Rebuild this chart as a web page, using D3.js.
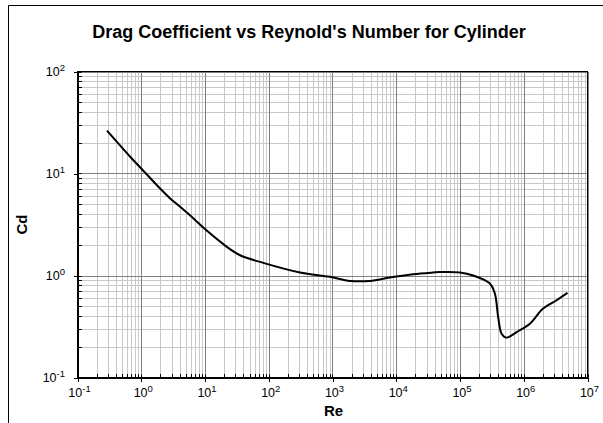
<!DOCTYPE html>
<html>
<head>
<meta charset="utf-8">
<script src="https://cdn.jsdelivr.net/npm/d3@7"></script>
<style>
  html, body { margin: 0; padding: 0; background: #fff; }
  svg { display: block; font-family: "Liberation Sans", Arial, sans-serif; }
</style>
</head>
<body>
<div id="chart"></div>
<script>
"use strict";

/********/
/* data */
/********/

const reynolds = [0.29, 0.67, 1.0, 2.03, 2.84, 4.07, 6.6, 10, 22, 35.5, 82, 310,
  910, 1880, 3870, 7950, 18450, 38000, 48400, 100000, 161000, 294000, 352000,
  397000, 449000, 537000, 771000, 1250000, 2010000, 3270000, 4850000];
const dragCoef = [26.3, 14.6, 11.2, 7.0, 5.7, 4.72, 3.63, 2.85, 1.91, 1.58, 1.33,
  1.07, 0.97, 0.885, 0.885, 0.955, 1.03, 1.07, 1.08, 1.07, 1.0, 0.834, 0.665,
  0.392, 0.269, 0.246, 0.279, 0.337, 0.474, 0.572, 0.675];
const xDecades = [-1, 0, 1, 2, 3, 4, 5, 6, 7];
const yDecades = [-1, 0, 1, 2];

const title = "Drag Coefficient vs Reynold's Number for Cylinder";
const xTitle = "Re";
const yTitle = "Cd";

/**********/
/* layout */
/**********/

const width = 603;
const height = 423;
const plot = { left: 77.5, right: 587.5, top: 71.5, bottom: 377.5 };

const svg = d3.select("#chart")
  .append("svg")
  .attr("width", width)
  .attr("height", height);

// chart area frame (cut off at right and bottom)
svg.append("path")
  .attr("d", `M8.5,${height}V5.5H${width}`)
  .attr("fill", "none")
  .attr("stroke", "#000")
  .attr("stroke-width", 1);

const x = d3.scaleLog()
  .domain([1e-1, 1e7])
  .range([plot.left, plot.right]);
const y = d3.scaleLog()
  .domain([1e-1, 1e2])
  .range([plot.bottom, plot.top]);

const minor = (decades) => {
  const out = [];
  decades.slice(0, -1).forEach(d => {
    for (let m = 2; m <= 9; m++) out.push(m * Math.pow(10, d));
  });
  return out;
};
const major = (decades) => decades.map(d => Math.pow(10, d));

/********/
/* grid */
/********/

const grid = svg.append("g").attr("shape-rendering", "crispEdges");

grid.selectAll(".xminor").data(minor(xDecades)).enter()
  .append("line")
  .attr("x1", d => Math.round(x(d)) + 0.5).attr("x2", d => Math.round(x(d)) + 0.5)
  .attr("y1", plot.top).attr("y2", plot.bottom)
  .attr("stroke", "#c8c8c8");

grid.selectAll(".yminor").data(minor(yDecades)).enter()
  .append("line")
  .attr("y1", d => Math.round(y(d)) + 0.5).attr("y2", d => Math.round(y(d)) + 0.5)
  .attr("x1", plot.left).attr("x2", plot.right)
  .attr("stroke", "#c8c8c8");

grid.selectAll(".xmajor").data(major(xDecades)).enter()
  .append("line")
  .attr("x1", d => Math.round(x(d)) + 0.5).attr("x2", d => Math.round(x(d)) + 0.5)
  .attr("y1", plot.top).attr("y2", plot.bottom)
  .attr("stroke", "#808080");

grid.selectAll(".ymajor").data(major(yDecades)).enter()
  .append("line")
  .attr("y1", d => Math.round(y(d)) + 0.5).attr("y2", d => Math.round(y(d)) + 0.5)
  .attr("x1", plot.left).attr("x2", plot.right)
  .attr("stroke", "#808080");

svg.append("rect")
  .attr("x", plot.left).attr("y", plot.top)
  .attr("width", plot.right - plot.left)
  .attr("height", plot.bottom - plot.top)
  .attr("fill", "none")
  .attr("stroke", "#000")
  .attr("shape-rendering", "crispEdges");

/********/
/* axes */
/********/

// minor ticks point inward, major ticks cross the axis
const xAxisMinor = d3.axisBottom(x).tickValues(minor(xDecades))
  .tickSizeInner(-4).tickSizeOuter(0).tickFormat("");
const xAxisMajor = d3.axisBottom(x).tickValues(major(xDecades))
  .tickSizeInner(4).tickSizeOuter(0).tickFormat("");
const yAxisMinor = d3.axisLeft(y).tickValues(minor(yDecades))
  .tickSizeInner(-4).tickSizeOuter(0).tickFormat("");
const yAxisMajor = d3.axisLeft(y).tickValues(major(yDecades))
  .tickSizeInner(4).tickSizeOuter(0).tickFormat("");

[xAxisMinor, xAxisMajor].forEach(ax => {
  svg.append("g")
    .attr("transform", `translate(0,${plot.bottom})`)
    .attr("shape-rendering", "crispEdges")
    .call(ax)
    .call(g => g.select(".domain").attr("stroke", "#000"))
    .call(g => g.selectAll(".tick line").attr("stroke", "#000"));
});
svg.selectAll(".xmajortick").data(major(xDecades)).enter()
  .append("line")
  .attr("x1", d => Math.round(x(d)) + 0.5).attr("x2", d => Math.round(x(d)) + 0.5)
  .attr("y1", plot.bottom - 3).attr("y2", plot.bottom)
  .attr("stroke", "#000");

[yAxisMinor, yAxisMajor].forEach(ax => {
  svg.append("g")
    .attr("transform", `translate(${plot.left},0)`)
    .attr("shape-rendering", "crispEdges")
    .call(ax)
    .call(g => g.select(".domain").attr("stroke", "#000"))
    .call(g => g.selectAll(".tick line").attr("stroke", "#000"));
});
svg.selectAll(".ymajortick").data(major(yDecades)).enter()
  .append("line")
  .attr("y1", d => Math.round(y(d)) + 0.5).attr("y2", d => Math.round(y(d)) + 0.5)
  .attr("x1", plot.left).attr("x2", plot.left + 4)
  .attr("stroke", "#000");

function powerLabel(sel, exp) {
  sel.append("tspan").text("10");
  sel.append("tspan")
    .attr("font-size", 9.5)
    .attr("dy", -4.5)
    .text(exp);
}

svg.selectAll(".xlabel").data(xDecades).enter()
  .append("text")
  .attr("x", d => x(Math.pow(10, d)) + 2)
  .attr("y", 396.5)
  .attr("text-anchor", "middle")
  .attr("font-size", 12.5)
  .attr("fill", "#000")
  .each(function(d) { powerLabel(d3.select(this), d); });

svg.selectAll(".ylabel").data(yDecades).enter()
  .append("text")
  .attr("x", 65)
  .attr("y", d => y(Math.pow(10, d)) + 4)
  .attr("text-anchor", "end")
  .attr("font-size", 12.5)
  .attr("fill", "#000")
  .each(function(d) { powerLabel(d3.select(this), d); });

/**********/
/* titles */
/**********/

svg.append("text")
  .attr("x", 309)
  .attr("y", 37.5)
  .attr("text-anchor", "middle")
  .attr("font-size", 18)
  .attr("font-weight", "bold")
  .text(title);

svg.append("text")
  .attr("x", (plot.left + plot.right) / 2 + 1)
  .attr("y", 415.5)
  .attr("text-anchor", "middle")
  .attr("font-size", 15)
  .attr("font-weight", "bold")
  .text(xTitle);

svg.append("text")
  .attr("transform", `translate(27,${(plot.top + plot.bottom) / 2}) rotate(-90)`)
  .attr("text-anchor", "middle")
  .attr("font-size", 15)
  .attr("font-weight", "bold")
  .text(yTitle);

/*********/
/* curve */
/*********/

const points = reynolds.map((re, i) => [re, dragCoef[i]]);

const line = d3.line()
  .x(d => x(d[0]))
  .y(d => y(d[1]))
  .curve(d3.curveCatmullRom.alpha(0.5));

svg.append("path")
  .datum(points)
  .attr("d", line)
  .attr("fill", "none")
  .attr("stroke", "#000")
  .attr("stroke-width", 2)
  .attr("stroke-linejoin", "round");
</script>
</body>
</html>
